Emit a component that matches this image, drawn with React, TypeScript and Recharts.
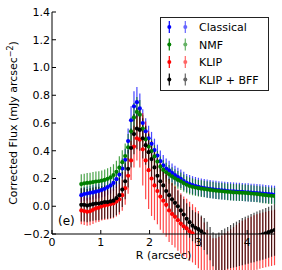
import { ComposedChart, Scatter, ErrorBar, XAxis, YAxis, Legend } from 'recharts'

const FONT = '"DejaVu Sans", sans-serif'

// radius grid (arcsec)
const R = [
    0.60, 0.66, 0.72, 0.78, 0.84, 0.90, 0.96, 1.02, 1.08, 1.14,
    1.20, 1.26, 1.32, 1.38, 1.44, 1.50, 1.56, 1.62, 1.68, 1.74,
    1.80, 1.86, 1.92, 1.98, 2.04, 2.10, 2.16, 2.22, 2.28, 2.34,
    2.40, 2.46, 2.52, 2.58, 2.64, 2.70, 2.76, 2.82, 2.88, 2.94,
    3.00, 3.06, 3.12, 3.18, 3.24, 3.30, 3.36, 3.42, 3.48, 3.54,
    3.60, 3.66, 3.72, 3.78, 3.84, 3.90, 3.96, 4.02, 4.08, 4.14,
    4.20, 4.26, 4.32, 4.38, 4.44, 4.50, 4.56,
]

const classical = [
    0.080, 0.088, 0.092, 0.097, 0.100, 0.106, 0.110, 0.118, 0.126, 0.138,
    0.150, 0.168, 0.195, 0.228, 0.272, 0.335, 0.470, 0.620, 0.720, 0.750,
    0.705, 0.600, 0.540, 0.490, 0.450, 0.405, 0.365, 0.325, 0.295, 0.272,
    0.258, 0.240, 0.224, 0.210, 0.198, 0.182, 0.168, 0.160, 0.152, 0.146,
    0.140, 0.135, 0.131, 0.127, 0.124, 0.121, 0.118, 0.116, 0.114, 0.112,
    0.110, 0.108, 0.107, 0.105, 0.104, 0.103, 0.101, 0.100, 0.098, 0.097,
    0.095, 0.093, 0.091, 0.089, 0.087, 0.085, 0.083,
]
const classicalErr = [
    0.050, 0.050, 0.051, 0.051, 0.052, 0.052, 0.053, 0.054, 0.055, 0.056,
    0.058, 0.060, 0.063, 0.067, 0.072, 0.080, 0.090, 0.100, 0.108, 0.110,
    0.108, 0.100, 0.095, 0.090, 0.086, 0.082, 0.079, 0.076, 0.074, 0.072,
    0.070, 0.069, 0.068, 0.067, 0.066, 0.066, 0.065, 0.065, 0.065, 0.065,
    0.065, 0.065, 0.065, 0.065, 0.065, 0.065, 0.065, 0.065, 0.065, 0.065,
    0.065, 0.065, 0.065, 0.065, 0.065, 0.065, 0.065, 0.065, 0.065, 0.065,
    0.065, 0.065, 0.065, 0.065, 0.065, 0.065, 0.065,
]

const nmf = [
    0.160, 0.165, 0.168, 0.170, 0.174, 0.178, 0.180, 0.184, 0.190, 0.198,
    0.208, 0.225, 0.248, 0.278, 0.318, 0.362, 0.425, 0.540, 0.640, 0.680,
    0.660, 0.560, 0.482, 0.430, 0.398, 0.360, 0.322, 0.285, 0.262, 0.245,
    0.230, 0.215, 0.201, 0.190, 0.180, 0.166, 0.155, 0.146, 0.140, 0.135,
    0.130, 0.127, 0.124, 0.121, 0.118, 0.115, 0.112, 0.110, 0.108, 0.106,
    0.104, 0.102, 0.100, 0.099, 0.098, 0.097, 0.096, 0.094, 0.092, 0.090,
    0.088, 0.085, 0.082, 0.080, 0.077, 0.075, 0.073,
]
const nmfErr = [
    0.070, 0.070, 0.071, 0.071, 0.072, 0.072, 0.073, 0.073, 0.074, 0.075,
    0.076, 0.078, 0.080, 0.083, 0.086, 0.090, 0.095, 0.100, 0.105, 0.108,
    0.105, 0.098, 0.092, 0.088, 0.084, 0.080, 0.077, 0.074, 0.071, 0.069,
    0.067, 0.066, 0.065, 0.064, 0.063, 0.062, 0.062, 0.061, 0.061, 0.060,
    0.060, 0.060, 0.060, 0.060, 0.060, 0.060, 0.060, 0.060, 0.060, 0.060,
    0.060, 0.060, 0.060, 0.060, 0.060, 0.060, 0.060, 0.060, 0.060, 0.060,
    0.060, 0.060, 0.060, 0.060, 0.060, 0.060, 0.060,
]

const klip = [
    -0.030, -0.035, -0.040, -0.036, -0.026, -0.016, -0.010, 0.000, 0.005, 0.010,
    0.015, 0.020, 0.034, 0.050, 0.080, 0.130, 0.220, 0.330, 0.430, 0.490,
    0.480, 0.410, 0.330, 0.260, 0.200, 0.150, 0.110, 0.070, 0.040, 0.010,
    -0.030, -0.055, -0.075, -0.100, -0.125, -0.145, -0.160, -0.180, -0.195, -0.215,
    -0.240, -0.280, -0.320, -0.370, -0.410, -0.430, -0.430, -0.420, -0.410, -0.395,
    -0.380, -0.365, -0.350, -0.335, -0.320, -0.305, -0.295, -0.285, -0.275, -0.265,
    -0.258, -0.250, -0.245, -0.240, -0.235, -0.230, -0.225,
]
const klipErr = [
    0.100, 0.100, 0.101, 0.101, 0.102, 0.102, 0.103, 0.103, 0.104, 0.105,
    0.106, 0.107, 0.108, 0.110, 0.112, 0.120, 0.130, 0.140, 0.150, 0.160,
    0.200, 0.260, 0.280, 0.280, 0.270, 0.250, 0.240, 0.240, 0.235, 0.230,
    0.228, 0.225, 0.222, 0.220, 0.218, 0.216, 0.214, 0.212, 0.210, 0.208,
    0.206, 0.204, 0.202, 0.200, 0.200, 0.200, 0.200, 0.200, 0.200, 0.200,
    0.200, 0.200, 0.200, 0.200, 0.200, 0.200, 0.200, 0.200, 0.200, 0.200,
    0.200, 0.200, 0.200, 0.200, 0.200, 0.200, 0.200,
]

const klipBff = [
    0.010, 0.010, 0.005, 0.010, 0.015, 0.020, 0.020, 0.025, 0.030, 0.030,
    0.035, 0.040, 0.058, 0.080, 0.120, 0.180, 0.270, 0.420, 0.520, 0.560,
    0.550, 0.490, 0.440, 0.390, 0.340, 0.280, 0.220, 0.180, 0.150, 0.110,
    0.080, 0.050, 0.025, 0.000, -0.030, -0.060, -0.090, -0.115, -0.140, -0.155,
    -0.165, -0.180, -0.200, -0.230, -0.270, -0.310, -0.330, -0.330, -0.320, -0.310,
    -0.300, -0.290, -0.282, -0.274, -0.265, -0.255, -0.247, -0.240, -0.232, -0.225,
    -0.217, -0.210, -0.203, -0.195, -0.187, -0.179, -0.171,
]
const klipBffErr = [
    0.120, 0.120, 0.120, 0.120, 0.120, 0.120, 0.120, 0.120, 0.120, 0.120,
    0.120, 0.120, 0.122, 0.124, 0.126, 0.130, 0.135, 0.140, 0.145, 0.150,
    0.150, 0.145, 0.140, 0.135, 0.130, 0.128, 0.125, 0.122, 0.120, 0.118,
    0.116, 0.115, 0.114, 0.113, 0.112, 0.112, 0.112, 0.112, 0.112, 0.112,
    0.112, 0.114, 0.116, 0.118, 0.120, 0.122, 0.130, 0.140, 0.148, 0.150,
    0.150, 0.155, 0.160, 0.163, 0.166, 0.170, 0.172, 0.174, 0.176, 0.178,
    0.180, 0.181, 0.182, 0.183, 0.184, 0.185, 0.186,
]

const xTicks = [0, 1, 2, 3, 4]
const yTicks = [-0.2, 0, 0.2, 0.4, 0.6, 0.8, 1.0, 1.2, 1.4]

const series = [
    { name: 'Classical', color: '#0000ff', values: classical, errors: classicalErr },
    { name: 'NMF', color: '#008000', values: nmf, errors: nmfErr },
    { name: 'KLIP', color: '#ff0000', values: klip, errors: klipErr },
    { name: 'KLIP + BFF', color: '#000000', values: klipBff, errors: klipBffErr },
]

const toPoints = (values: number[], errors: number[]) =>
    R.map((x, i) => ({ x, y: values[i], e: errors[i] }))

const fmtY = (v: number) => (v < 0 ? '\u2212' : '') + Math.abs(v).toFixed(1)

const tickStyle = { fill: '#000', fontSize: 11, fontFamily: FONT }

function LegendBox() {
    return (
        <svg width={110} height={75} style={{ display: 'block' }}>
            <rect x={0.5} y={0.5} width={108} height={73} fill="#fff" stroke="#222" />
            {series.map((s, i) => {
                const cy = 10 + i * 17.5
                return (
                    <g key={s.name}>
                        {[9.3, 25.3].map((mx, j) => (
                            <g key={j} opacity={j === 0 ? 1 : 0.6}>
                                <line x1={mx} x2={mx} y1={cy - 6} y2={cy + 6} stroke={s.color} strokeWidth={1.2} />
                                <circle cx={mx} cy={cy} r={2} fill={s.color} />
                            </g>
                        ))}
                        <text x={39} y={cy + 4} fontSize={11} fontFamily={FONT} fill="#000">
                            {s.name}
                        </text>
                    </g>
                )
            })}
        </svg>
    )
}

function YLabel() {
    return (
        <text
            transform="translate(17,123) rotate(-90)"
            textAnchor="middle"
            fontSize={11}
            fontFamily={FONT}
            fill="#000"
        >
            Corrected Flux (mJy arcsec
            <tspan dy={-4} fontSize={8}>{'\u2212'}2</tspan>
            <tspan dy={4}>)</tspan>
        </text>
    )
}

export default function App() {
    return (
        <div style={{ position: 'absolute', left: 0, top: 0, width: 282, height: 270, background: '#fff' }}>
            <ComposedChart
                width={282}
                height={270}
                margin={{ top: 12, right: 7, bottom: 0, left: 0 }}
            >
                <XAxis
                    type="number"
                    dataKey="x"
                    domain={[0, 4.57]}
                    ticks={xTicks}
                    allowDataOverflow
                    height={36}
                    tickSize={-4}
                    tickMargin={8}
                    tick={tickStyle}
                    axisLine={{ stroke: '#000' }}
                    tickLine={{ stroke: '#000' }}
                    label={{ value: 'R (arcsec)', position: 'insideBottom', offset: 11, fill: '#000', fontSize: 11, fontFamily: FONT }}
                />
                <XAxis
                    xAxisId="top"
                    orientation="top"
                    type="number"
                    dataKey="x"
                    domain={[0, 4.57]}
                    ticks={xTicks}
                    allowDataOverflow
                    height={0}
                    tickSize={-4}
                    tick={false}
                    axisLine={{ stroke: '#000' }}
                    tickLine={{ stroke: '#000' }}
                />
                <YAxis
                    type="number"
                    dataKey="y"
                    domain={[-0.2, 1.4]}
                    ticks={yTicks}
                    allowDataOverflow
                    width={52}
                    tickSize={-4}
                    tickMargin={6}
                    tick={tickStyle}
                    tickFormatter={fmtY}
                    axisLine={{ stroke: '#000' }}
                    tickLine={{ stroke: '#000' }}
                    label={{ content: () => <YLabel /> }}
                />
                <YAxis
                    yAxisId="right"
                    orientation="right"
                    type="number"
                    dataKey="y"
                    domain={[-0.2, 1.4]}
                    ticks={yTicks}
                    allowDataOverflow
                    width={0}
                    tickSize={-4}
                    tick={false}
                    axisLine={{ stroke: '#000' }}
                    tickLine={{ stroke: '#000' }}
                />
                {series.map((s) => (
                    <Scatter
                        key={s.name}
                        name={s.name}
                        data={toPoints(s.values, s.errors)}
                        fill={s.color}
                        isAnimationActive={false}
                        shape={(p: any) => <circle cx={p.cx} cy={p.cy} r={2.1} fill={s.color} />}
                    >
                        <ErrorBar
                            dataKey="e"
                            direction="y"
                            width={0}
                            stroke={s.color}
                            strokeOpacity={0.72}
                            strokeWidth={1.2}
                            isAnimationActive={false}
                        />
                    </Scatter>
                ))}
                <Legend
                    layout="vertical"
                    align="center"
                    verticalAlign="middle"
                    wrapperStyle={{ position: 'absolute', left: 160, top: 17, width: 110, height: 75 }}
                    content={() => <LegendBox />}
                />
            </ComposedChart>
            <div
                style={{
                    position: 'absolute',
                    left: 58,
                    top: 214,
                    fontSize: 12,
                    lineHeight: '14px',
                    fontFamily: FONT,
                    color: '#000',
                }}
            >
                (e)
            </div>
        </div>
    )
}
